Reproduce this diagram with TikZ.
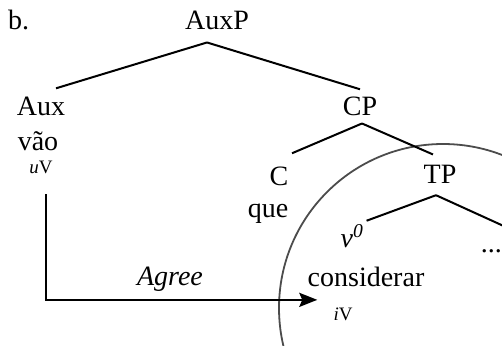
\documentclass[tikz,border=0pt]{standalone}
\usepackage{fontspec}
\setmainfont{Liberation Serif}
\usetikzlibrary{arrows.meta, calc}

\tikzset{
  lbl/.style={inner sep=0pt, anchor=base, font=\fontsize{28}{31}\selectfont},
  feat/.style={inner sep=0pt, anchor=base, font=\fontsize{19}{22}\selectfont},
  branch/.style={line width=2pt},
  agreearrow/.style={line width=2.3pt, -{Stealth[length=18pt, width=14pt, inset=3pt]}},
}

\begin{document}
\begin{tikzpicture}[x=1pt, y=-1pt]
\useasboundingbox (0,0) rectangle (502,345);

% Phase boundary (partly outside the frame)
\begin{scope}
\clip (0,0) rectangle (502,345);
\draw[black!70, line width=1.8pt] (443,308) circle[radius=164];
\end{scope}

% Tree labels
\node[lbl, anchor=base west] (ex) at (8,30) {b.};
\node[lbl] (auxp) at (217,30) {AuxP};
\node[lbl] (aux) at (41,115) {Aux};
\node[lbl] (vao) at (38,150) {vão};
\node[feat] (uv) at (41,173) {\textit{u}V};
\node[lbl] (cp) at (360,115) {CP};
\node[lbl] (c) at (279,185) {C};
\node[lbl] (que) at (268,217) {que};
\node[lbl] (tp) at (440,183) {TP};
\node[lbl] (vzero) at (352,247) {\textit{v}\textsuperscript{\textit{0}}};
\node[lbl, anchor=base east] (dots) at (502,252) {...};
\node[lbl] (consid) at (366,286) {considerar};
\node[feat] (iv) at (343,320) {\textit{i}V};

% Branches
\draw[branch] ($(auxp.south)+(-10,12)$) -- ($(aux.north)+(15,-8)$);
\draw[branch] ($(auxp.south)+(-10,12)$) -- ($(cp.north)+(0,-7)$);
\draw[branch] ($(cp.south)+(2,8)$) -- ($(c.north)+(13,-13)$);
\draw[branch] ($(cp.south)+(2,8)$) -- ($(tp.north)+(-7,-10)$);
\draw[branch] ($(tp.south)+(-4,12)$) -- ($(vzero.north east)+(3,-4)$);
\begin{scope}
\clip (0,0) rectangle (502,345);
\draw[branch] ($(tp.south)+(-4,12)$) -- ($(dots.north east)+(8,-20)$);
\end{scope}

% Agree relation
\coordinate (agreetip) at ($(iv.west)+(-16,-14)$);
\draw[agreearrow] ($(uv.south)+(5,21)$) |- (agreetip);
\node[lbl, font=\fontsize{28}{31}\selectfont\itshape] (agree) at (170,285) {Agree};

\end{tikzpicture}
\end{document}
